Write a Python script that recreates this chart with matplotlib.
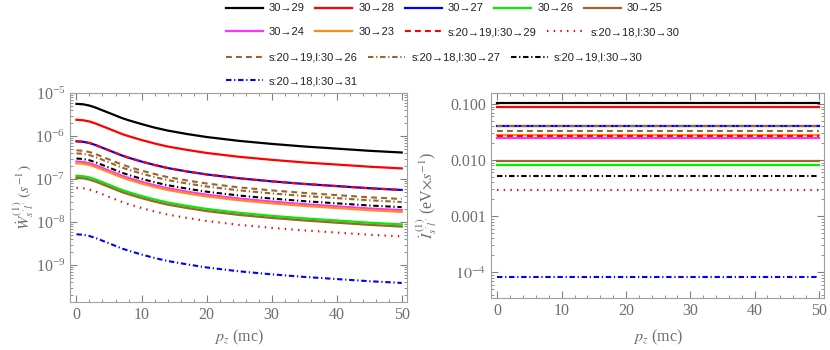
import numpy as np
import matplotlib
matplotlib.use('Agg')
import matplotlib.pyplot as plt
from matplotlib.ticker import LogLocator, MultipleLocator, NullFormatter

plt.rcParams['font.family'] = 'serif'
plt.rcParams['font.serif'] = ['Liberation Serif', 'DejaVu Serif']
plt.rcParams['mathtext.fontset'] = 'stix'

# p_z grid (mc)
pz = [0, 1, 2, 3, 4, 5, 6, 7, 8, 10, 12, 14, 17, 20, 25, 30, 35, 40, 45, 50]
pz_right = [0, 50]

# left panel: W dot (s^-1)
w_30_29 = [5.62e-6, 5.50e-6, 5.13e-6, 4.57e-6, 3.98e-6, 3.47e-6, 3.02e-6, 2.63e-6, 2.34e-6, 1.91e-6,
           1.58e-6, 1.35e-6, 1.12e-6, 9.55e-7, 7.76e-7, 6.61e-7, 5.75e-7, 5.13e-7, 4.57e-7, 4.17e-7]
w_30_28 = [2.40e-6, 2.34e-6, 2.19e-6, 1.95e-6, 1.70e-6, 1.48e-6, 1.29e-6, 1.12e-6, 1.00e-6, 8.13e-7,
           6.76e-7, 5.75e-7, 4.79e-7, 4.07e-7, 3.31e-7, 2.82e-7, 2.45e-7, 2.19e-7, 1.95e-7, 1.78e-7]
w_30_27 = [7.59e-7, 7.41e-7, 6.92e-7, 6.17e-7, 5.37e-7, 4.68e-7, 4.07e-7, 3.55e-7, 3.16e-7, 2.57e-7,
           2.14e-7, 1.82e-7, 1.51e-7, 1.29e-7, 1.05e-7, 8.91e-8, 7.76e-8, 6.92e-8, 6.17e-8, 5.62e-8]
w_30_26 = [1.20e-7, 1.17e-7, 1.10e-7, 9.77e-8, 8.51e-8, 7.41e-8, 6.46e-8, 5.62e-8, 5.01e-8, 4.07e-8,
           3.39e-8, 2.88e-8, 2.40e-8, 2.04e-8, 1.66e-8, 1.41e-8, 1.23e-8, 1.10e-8, 9.77e-9, 8.91e-9]
w_30_25 = [1.07e-7, 1.05e-7, 9.77e-8, 8.71e-8, 7.59e-8, 6.61e-8, 5.75e-8, 5.01e-8, 4.47e-8, 3.63e-8,
           3.02e-8, 2.57e-8, 2.14e-8, 1.82e-8, 1.48e-8, 1.26e-8, 1.10e-8, 9.77e-9, 8.71e-9, 7.94e-9]
w_30_24 = [2.57e-7, 2.51e-7, 2.34e-7, 2.09e-7, 1.82e-7, 1.58e-7, 1.38e-7, 1.20e-7, 1.07e-7, 8.71e-8,
           7.24e-8, 6.17e-8, 5.13e-8, 4.37e-8, 3.55e-8, 3.02e-8, 2.63e-8, 2.34e-8, 2.09e-8, 1.91e-8]
w_30_23 = [2.34e-7, 2.29e-7, 2.14e-7, 1.91e-7, 1.66e-7, 1.45e-7, 1.26e-7, 1.10e-7, 9.77e-8, 7.94e-8,
           6.61e-8, 5.62e-8, 4.68e-8, 3.98e-8, 3.24e-8, 2.75e-8, 2.40e-8, 2.14e-8, 1.91e-8, 1.74e-8]
w_s19_l29 = [7.59e-7, 7.41e-7, 6.92e-7, 6.17e-7, 5.37e-7, 4.68e-7, 4.07e-7, 3.55e-7, 3.16e-7, 2.57e-7,
             2.14e-7, 1.82e-7, 1.51e-7, 1.29e-7, 1.05e-7, 8.91e-8, 7.76e-8, 6.92e-8, 6.17e-8, 5.62e-8]
w_s18_l30 = [6.31e-8, 6.17e-8, 5.75e-8, 5.13e-8, 4.47e-8, 3.89e-8, 3.39e-8, 2.95e-8, 2.63e-8, 2.14e-8,
             1.78e-8, 1.51e-8, 1.26e-8, 1.07e-8, 8.71e-9, 7.41e-9, 6.46e-9, 5.75e-9, 5.13e-9, 4.68e-9]
w_s19_l26 = [4.68e-7, 4.57e-7, 4.27e-7, 3.80e-7, 3.31e-7, 2.88e-7, 2.51e-7, 2.19e-7, 1.95e-7, 1.58e-7,
             1.32e-7, 1.12e-7, 9.33e-8, 7.94e-8, 6.46e-8, 5.50e-8, 4.79e-8, 4.27e-8, 3.80e-8, 3.47e-8]
w_s18_l27 = [3.98e-7, 3.89e-7, 3.63e-7, 3.24e-7, 2.82e-7, 2.45e-7, 2.14e-7, 1.86e-7, 1.66e-7, 1.35e-7,
             1.12e-7, 9.55e-8, 7.94e-8, 6.76e-8, 5.50e-8, 4.68e-8, 4.07e-8, 3.63e-8, 3.24e-8, 2.95e-8]
w_s19_l30 = [3.02e-7, 2.95e-7, 2.75e-7, 2.45e-7, 2.14e-7, 1.86e-7, 1.62e-7, 1.41e-7, 1.26e-7, 1.02e-7,
             8.51e-8, 7.24e-8, 6.03e-8, 5.13e-8, 4.17e-8, 3.55e-8, 3.09e-8, 2.75e-8, 2.45e-8, 2.24e-8]
w_s18_l31 = [5.25e-9, 5.13e-9, 4.79e-9, 4.27e-9, 3.72e-9, 3.24e-9, 2.82e-9, 2.45e-9, 2.19e-9, 1.78e-9,
             1.48e-9, 1.26e-9, 1.05e-9, 8.91e-10, 7.24e-10, 6.17e-10, 5.37e-10, 4.79e-10, 4.27e-10, 3.89e-10]

# right panel: I dot (eV x s^-1), flat in p_z
i_30_29 = 0.104
i_30_28 = 0.0875
i_30_27 = 0.041
i_30_26 = 0.0083
i_30_25 = 0.0096
i_30_24 = 0.0246
i_30_23 = 0.028
i_s19_l29 = 0.027
i_s18_l30 = 0.0029
i_s19_l26 = 0.033
i_s18_l27 = 0.041
i_s19_l30 = 0.0051
i_s18_l31 = 8.1e-5

labels = ['30→29', '30→28', '30→27', '30→26', '30→25', '30→24', '30→23',
          's:20→19,l:30→29', 's:20→18,l:30→30', 's:20→19,l:30→26',
          's:20→18,l:30→27', 's:20→19,l:30→30', 's:20→18,l:30→31']
w_series = [w_30_29, w_30_28, w_30_27, w_30_26, w_30_25, w_30_24, w_30_23,
            w_s19_l29, w_s18_l30, w_s19_l26, w_s18_l27, w_s19_l30, w_s18_l31]
i_series = [i_30_29, i_30_28, i_30_27, i_30_26, i_30_25, i_30_24, i_30_23,
            i_s19_l29, i_s18_l30, i_s19_l26, i_s18_l27, i_s19_l30, i_s18_l31]

brown = '#99662f'
dashed = (0, (2.8, 2.0))
dotted = (0, (0.7, 2.5))
dashdot = (0, (2.6, 1.3, 0.6, 1.3))
colors = ['black', 'red', 'blue', '#00ee00', brown, '#ff33ff', '#ff8c1a',
          'red', 'red', brown, brown, 'black', 'blue']
styles = ['-'] * 7 + [dashed, dotted, dashed, dashdot, dashdot, dashdot]

gray = '#808080'
txt = '#6e6e6e'

fig = plt.figure(figsize=(8.3, 3.5), dpi=100)
ax1 = fig.add_axes([0.0843, 0.137, 0.4060, 0.597])
ax2 = fig.add_axes([0.5916, 0.149, 0.4012, 0.585])

lines = []
for w, c, s in zip(w_series, colors, styles):
    ln, = ax1.plot(pz, w, color=c, linestyle=s, lw=1.6 if s == '-' else 1.5)
    lines.append(ln)
for v, c, s in zip(i_series, colors, styles):
    ax2.plot(pz_right, [v, v], color=c, linestyle=s, lw=1.6 if s == '-' else 1.5)

for ax in (ax1, ax2):
    ax.set_yscale('log')
    ax.set_xlim(-1, 50.8)
    ax.xaxis.set_major_locator(MultipleLocator(10))
    ax.xaxis.set_minor_locator(MultipleLocator(2))
    ax.yaxis.set_minor_locator(LogLocator(base=10, subs=np.arange(2, 10), numticks=20))
    ax.yaxis.set_minor_formatter(NullFormatter())
    ax.tick_params(which='both', direction='in', top=True, right=True, colors=gray,
                   labelcolor=txt, labelsize=11.5)
    ax.tick_params(which='major', length=5, width=0.8)
    ax.tick_params(which='minor', length=2.5, width=0.6)
    for sp in ax.spines.values():
        sp.set_color('#a0a0a0')
    ax.set_xlabel(r'$p_z$ (mc)', color=txt, fontsize=11.5)

ax1.set_ylim(1.4e-10, 1.0e-5)
ax1.set_yticks([1e-9, 1e-8, 1e-7, 1e-6, 1e-5])
ax1.set_ylabel(r'$\dot{W}^{\,(1)}_{s^{\prime}l^{\prime}}\;(s^{-1})$', color=txt, fontsize=11.5)
ax1.yaxis.set_label_coords(-0.10, 0.5)
ax1.xaxis.set_label_coords(0.5, -0.125)

ax2.set_ylim(3.5e-5, 0.156)
ax2.set_yticks([1e-4, 1e-3, 1e-2, 1e-1], [r'$10^{-4}$', '0.001', '0.010', '0.100'])
ax2.set_ylabel(r'$\dot{I}^{\,(1)}_{s^{\prime}l^{\prime}}$ (eV$\times s^{-1}$)', color=txt, fontsize=11.5)
ax2.yaxis.set_label_coords(-0.155, 0.5)
ax2.xaxis.set_label_coords(0.5, -0.146)

# legend rows laid out like the original flow legend
rows = [[0, 1, 2, 3, 4], [5, 6, 7, 8], [9, 10, 11], [12]]
row_y = [0.976, 0.908, 0.836, 0.768]
x0 = 226 / 830
for r, y in zip(rows, row_y):
    leg = fig.legend([lines[k] for k in r], [labels[k] for k in r], ncol=len(r),
                     loc='center left', bbox_to_anchor=(x0, y), frameon=False,
                     borderpad=0, borderaxespad=0, handlelength=3.33,
                     handletextpad=0.54, columnspacing=0.95,
                     prop={'family': ['Liberation Sans', 'DejaVu Sans'], 'size': 8.0})
    for t in leg.get_texts():
        t.set_color('#222222')

fig.savefig('out.png', dpi=100)
